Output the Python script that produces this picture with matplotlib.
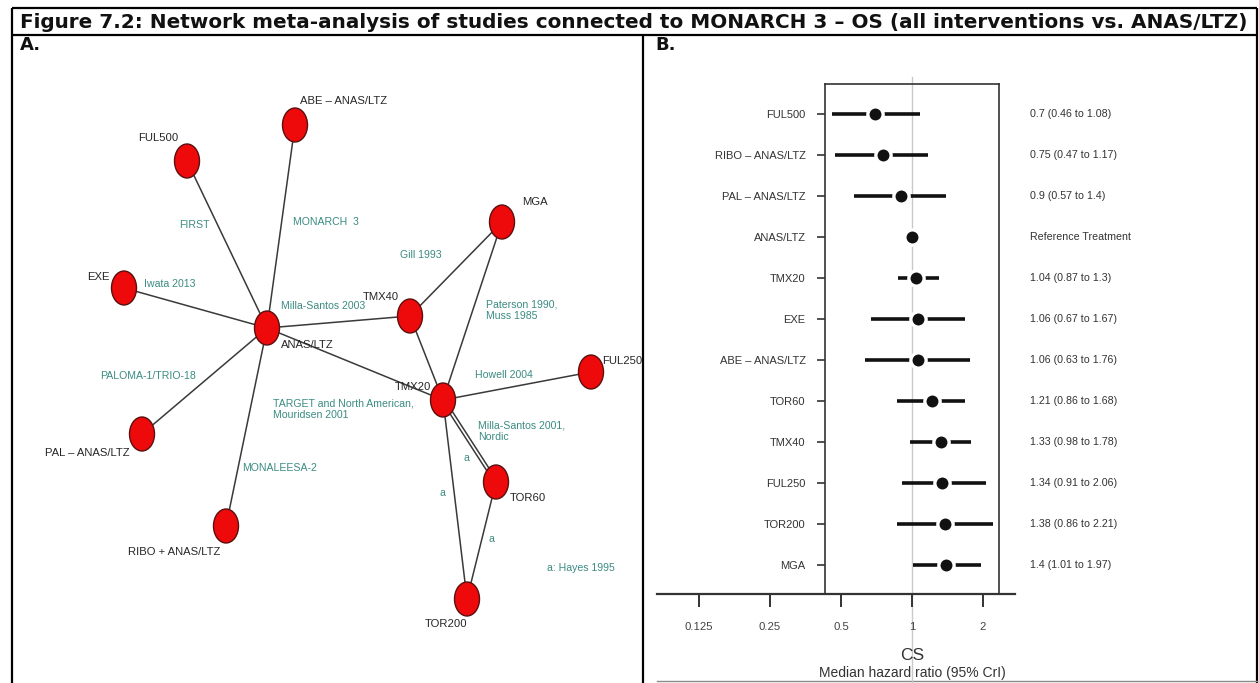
import numpy as np
import matplotlib
matplotlib.use("Agg")
import matplotlib.pyplot as plt
from matplotlib import font_manager
from matplotlib.patches import Ellipse
from matplotlib.ticker import NullLocator
from matplotlib.transforms import blended_transform_factory

W, H = 1259, 683

# ---- panel A: network (node layout in picture pixels) ----
node_names = ["ANAS/LTZ", "ABE", "FUL500", "EXE", "TMX40", "MGA",
              "TMX20", "FUL250", "PAL", "RIBO", "TOR60", "TOR200"]
node_labels = ["ANAS/LTZ", "ABE – ANAS/LTZ", "FUL500", "EXE", "TMX40", "MGA",
               "TMX20", "FUL250", "PAL – ANAS/LTZ", "RIBO + ANAS/LTZ", "TOR60", "TOR200"]
node_x = [267, 295, 187, 124, 410, 502, 443, 591, 142, 226, 496, 467]
node_y = [328, 125, 161, 288, 316, 222, 400, 372, 434, 526, 482, 599]

edge_from = ["ANAS/LTZ", "ANAS/LTZ", "ANAS/LTZ", "ANAS/LTZ", "ANAS/LTZ", "ANAS/LTZ", "ANAS/LTZ",
             "TMX40", "TMX40", "MGA", "TMX20", "TMX20", "TMX20", "TOR60"]
edge_to = ["ABE", "FUL500", "EXE", "TMX40", "TMX20", "PAL", "RIBO",
           "MGA", "TMX20", "TMX20", "FUL250", "TOR60", "TOR200", "TOR200"]
edge_count = [1, 1, 1, 1, 1, 1, 1, 1, 1, 1, 1, 2, 1, 1]

study_labels = ["FIRST", "MONARCH  3", "Gill 1993", "Iwata 2013", "Milla-Santos 2003",
                "Paterson 1990,\nMuss 1985", "Howell 2004", "PALOMA-1/TRIO-18",
                "TARGET and North American,\nMouridsen 2001", "Milla-Santos 2001,\nNordic",
                "MONALEESA-2", "a", "a", "a", "a: Hayes 1995"]

# ---- panel B: forest plot ----
treatments = ["FUL500", "RIBO – ANAS/LTZ", "PAL – ANAS/LTZ", "ANAS/LTZ", "TMX20", "EXE",
              "ABE – ANAS/LTZ", "TOR60", "TMX40", "FUL250", "TOR200", "MGA"]
hr_median = [0.7, 0.75, 0.9, 1.0, 1.04, 1.06, 1.06, 1.21, 1.33, 1.34, 1.38, 1.4]
hr_low = [0.46, 0.47, 0.57, np.nan, 0.87, 0.67, 0.63, 0.86, 0.98, 0.91, 0.86, 1.01]
hr_high = [1.08, 1.17, 1.4, np.nan, 1.3, 1.67, 1.76, 1.68, 1.78, 2.06, 2.21, 1.97]
x_ticks = [0.125, 0.25, 0.5, 1, 2]
x_ticklabels = ["0.125", "0.25", "0.5", "1", "2"]

# fonts
installed = {f.name for f in font_manager.fontManager.ttflist}
if "Liberation Sans Narrow" in installed:
    net_font = ["Liberation Sans Narrow", "DejaVu Sans"]
    node_size, study_size, fp_size, val_size, tick_size = 10, 9.2, 9.6, 9.3, 9.8
else:
    net_font = ["Liberation Sans", "DejaVu Sans"]
    node_size, study_size, fp_size, val_size, tick_size = 8.1, 7.6, 8.0, 7.7, 8.2
teal = "#3b8b82"
ink = "#262626"

fig = plt.figure(figsize=(W / 100, H / 100), dpi=100)
ax0 = fig.add_axes([0, 0, 1, 1])
ax0.set_xlim(0, W)
ax0.set_ylim(H, 0)
ax0.axis("off")

# table frame
frame_kw = dict(color="black", lw=1.6, solid_capstyle="butt")
ax0.plot([12, 1257], [8, 8], **frame_kw)
ax0.plot([12, 1257], [35, 35], **frame_kw)
ax0.plot([12, 12], [8, H], **frame_kw)
ax0.plot([1257, 1257], [8, H], **frame_kw)
ax0.plot([643, 643], [35, H], **frame_kw)

title = ax0.text(20, 22, "Figure 7.2: Network meta-analysis of studies connected to MONARCH 3 – OS "
                 "(all interventions vs. ANAS/LTZ)", fontsize=14, fontweight="bold",
                 family="DejaVu Sans", ha="left", va="center", color="#111")
fig.canvas.draw()
tw = title.get_window_extent().width
title.set_fontsize(14 * 1230 / tw)
ax0.text(20, 45, "A.", fontsize=13, fontweight="bold", ha="left", va="center", color="#111")
ax0.text(655, 45, "B.", fontsize=13, fontweight="bold", ha="left", va="center", color="#111")

# network edges
pos = {n: (x, y) for n, x, y in zip(node_names, node_x, node_y)}
for a, b, k in zip(edge_from, edge_to, edge_count):
    (x1, y1), (x2, y2) = pos[a], pos[b]
    d = np.hypot(x2 - x1, y2 - y1)
    nx, ny = -(y2 - y1) / d, (x2 - x1) / d
    for off in (np.arange(k) - (k - 1) / 2) * 3.2:
        ax0.plot([x1 + nx * off, x2 + nx * off], [y1 + ny * off, y2 + ny * off],
                 color="#3a3a3a", lw=1.1, zorder=2)

for x, y in zip(node_x, node_y):
    ax0.add_patch(Ellipse((x, y), 25, 34, facecolor="#ee0a0a", edgecolor="#5a1010",
                          lw=1.0, zorder=3))

# node label placement
label_pos = [(281, 345, "left"), (300, 101, "left"), (138, 138, "left"), (110, 277, "right"),
             (399, 297, "right"), (522, 202, "left"), (431, 387, "right"), (602, 361, "left"),
             (45, 453, "left"), (128, 552, "left"), (510, 498, "left"), (425, 624, "left")]
for lab, (lx, ly, ha) in zip(node_labels, label_pos):
    ax0.text(lx, ly, lab, family=net_font, fontsize=node_size, color=ink,
             ha=ha, va="center", zorder=4)

study_pos = [(179, 225), (293, 222), (400, 255), (144, 284), (281, 306), (486, 310),
             (475, 375), (100, 376), (273, 409), (478, 431), (242, 468), (464, 458),
             (440, 493), (489, 539), (547, 568)]
for lab, (sx, sy) in zip(study_labels, study_pos):
    ax0.text(sx, sy, lab, family=net_font, fontsize=study_size, color=teal,
             ha="left", va="center", linespacing=1.2, zorder=4)

# ---- forest plot ----
px_per_doubling = 71.0
x_one = 912.0
box_l, box_r, box_t, box_b = 825, 999, 84, 594
row_top, row_gap = 114, 41
n = len(treatments)
ylo = n - 1 + (box_b - (row_top + (n - 1) * row_gap)) / row_gap
yhi = -(row_top - box_t) / row_gap

ax = fig.add_axes([box_l / W, 1 - box_b / H, (box_r - box_l) / W, (box_b - box_t) / H])
ax.set_xscale("log", base=2)
ax.set_xlim(2 ** ((box_l - x_one) / px_per_doubling), 2 ** ((box_r - x_one) / px_per_doubling))
ax.set_ylim(ylo, yhi)
ax.xaxis.set_major_locator(NullLocator())
ax.xaxis.set_minor_locator(NullLocator())
for s in ax.spines.values():
    s.set_color("#333333")
    s.set_linewidth(1.2)
ax.set_yticks(range(n))
ax.set_yticklabels(treatments, family=net_font, fontsize=fp_size, color="#333333")
ax.tick_params(axis="y", length=6, width=1.2, color="#333333", pad=8)

ax.axvline(1, ymin=-(H - box_b) / (box_b - box_t), ymax=1 + 7 / (box_b - box_t),
           color="#c9c9c9", lw=1.0, clip_on=False, zorder=0)
ys = np.arange(n)
ax.hlines(ys, hr_low, hr_high, color="#111111", lw=2.6, zorder=2)
ax.plot(hr_median, ys, "o", ms=11, mfc="#111111", mec="white", mew=2.4, zorder=3)

tr = blended_transform_factory(ax.transAxes, ax.transData)
xt = (1030 - box_l) / (box_r - box_l)
for i, (m, lo, hi) in enumerate(zip(hr_median, hr_low, hr_high)):
    txt = "Reference Treatment" if np.isnan(lo) else f"{m:g} ({lo:g} to {hi:g})"
    ax.text(xt, i, txt, transform=tr, family=net_font, fontsize=val_size,
            color="#333333", ha="left", va="center")

# x axis drawn wider than the box
axl, axr = 657, 1015
axx = fig.add_axes([axl / W, 1 - box_b / H, (axr - axl) / W, 0.0001])
axx.set_xscale("log", base=2)
axx.set_xlim(2 ** ((axl - x_one) / px_per_doubling), 2 ** ((axr - x_one) / px_per_doubling))
axx.patch.set_visible(False)
for side in ("top", "left", "right"):
    axx.spines[side].set_visible(False)
axx.spines["bottom"].set_linewidth(1.6)
axx.spines["bottom"].set_color("#333333")
axx.set_yticks([])
axx.xaxis.set_minor_locator(NullLocator())
axx.set_xticks(x_ticks)
axx.set_xticklabels(x_ticklabels, family=net_font, fontsize=tick_size, color="#444444")
axx.tick_params(axis="x", length=9, width=1.4, color="#333333", pad=11)

fig.text(x_one / W, 1 - 655 / H, "CS", family=net_font, fontsize=12.5, color="#333333",
         ha="center", va="center")
fig.text(x_one / W, 1 - 673 / H, "Median hazard ratio (95% CrI)", family=net_font,
         fontsize=10, color="#333333", ha="center", va="center")
ax0.plot([657, 1257], [681, 681], color="#8a8a8a", lw=1.0)

fig.savefig("out.png", dpi=100)
